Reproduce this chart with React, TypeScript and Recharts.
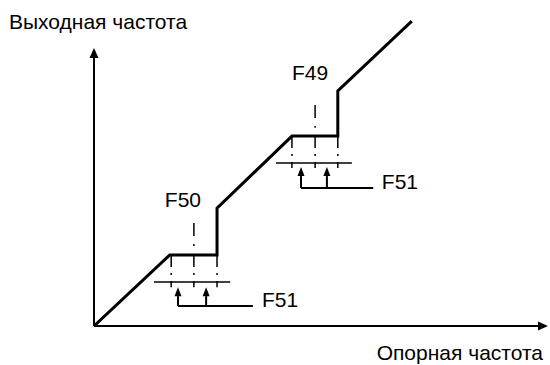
import React from 'react';
import { ComposedChart, Line, XAxis, YAxis, ReferenceLine, ReferenceDot } from 'recharts';

// Main characteristic: reference frequency (x, % of axis) vs output frequency (y, % of axis)
const refFreq = [0, 16.7, 27.1, 27.1, 43.6, 53.7, 53.7, 70.0];
const outFreq = [0, 22.5, 22.5, 37.3, 60.1, 60.1, 74.4, 96.5];

// Axis extents (arrow tips)
const axisXMax = 100;
const axisYMax = 88;

// Skip-frequency bands (band 1 = around F50, band 2 = around F49)
const skipStart = [17.0, 43.6];
const skipCenter = [22.0, 48.7];
const skipEnd = [27.1, 53.7];
const skipLevel = [22.5, 60.1];
const dropBottom = [12.3, 50.0];
const centerMarkTop = [32.6, 69.9];
const centerMarkBottom = [25.0, 62.7];
const bracketY = [13.9, 51.6];
const bracketLeft = [13.2, 40.1];
const bracketRight = [30.0, 56.8];
const arrowLeftX = [18.5, 45.6];
const arrowRightX = [24.7, 51.3];
const arrowTop = [12.3, 50.3];
const arrowBase = [6.3, 43.7];
const leaderEnd = [35.0, 61.5];

// Labels
const labelText = ['F50', 'F49', 'F51', 'F51'];
const labelX = [15.6, 43.6, 37.0, 63.4];
const labelY = [37.7, 77.8, 6.0, 43.4];

const yTitle = 'Выходная частота';
const xTitle = 'Опорная частота';

const curveData = refFreq.map((x, i) => ({ x, y: outFreq[i] }));
const FONT = '"Liberation Sans", Arial, sans-serif';
const FS = 21;

const arrowShape = (len: number, half: number, width: number) => (p: any) => {
  const { x1, y1, x2, y2 } = p;
  if (x1 == null || x2 == null) return <g />;
  const dx = x2 - x1;
  const dy = y2 - y1;
  const d = Math.hypot(dx, dy) || 1;
  const ux = dx / d;
  const uy = dy / d;
  const bx = x2 - ux * len;
  const by = y2 - uy * len;
  const px = -uy;
  const py = ux;
  return (
    <g>
      <line x1={x1} y1={y1} x2={bx} y2={by} stroke="#000" strokeWidth={width} />
      <polygon
        points={`${x2},${y2} ${bx + px * half},${by + py * half} ${bx - px * half},${by - py * half}`}
        fill="#000"
      />
    </g>
  );
};

const axisArrow = arrowShape(10, 4.5, 2);
const smallArrow = arrowShape(9, 3.5, 2);

export default function App() {
  const bands = [0, 1];
  return (
    <div style={{ position: 'absolute', left: 0, top: 0, width: 550, height: 365, background: '#fff' }}>
      <ComposedChart
        width={550}
        height={365}
        data={curveData}
        margin={{ top: 10, right: 2, bottom: 39, left: 94 }}
      >
        <XAxis type="number" dataKey="x" domain={[0, 100]} hide allowDataOverflow />
        <YAxis type="number" domain={[0, 100]} hide allowDataOverflow />
        <ReferenceLine
          segment={[{ x: 0, y: 0 }, { x: axisXMax, y: 0 }]}
          ifOverflow="visible"
          shape={axisArrow}
        />
        <ReferenceLine
          segment={[{ x: 0, y: 0 }, { x: 0, y: axisYMax }]}
          ifOverflow="visible"
          shape={axisArrow}
        />
        {bands.map((b) =>
          [skipStart[b], skipCenter[b], skipEnd[b]].map((x, k) => (
            <ReferenceLine
              key={`drop-${b}-${k}`}
              segment={[{ x, y: skipLevel[b] }, { x, y: dropBottom[b] }]}
              stroke="#000"
              strokeWidth={1.5}
              strokeDasharray="12 6 2 6"
              ifOverflow="visible"
            />
          ))
        )}
        {bands.map((b) => (
          <ReferenceLine
            key={`center-${b}`}
            segment={[{ x: skipCenter[b], y: centerMarkTop[b] }, { x: skipCenter[b], y: centerMarkBottom[b] }]}
            stroke="#000"
            strokeWidth={1.5}
            strokeDasharray="13 8 2 30"
            ifOverflow="visible"
          />
        ))}
        {bands.map((b) => (
          <ReferenceLine
            key={`bracket-${b}`}
            segment={[{ x: bracketLeft[b], y: bracketY[b] }, { x: bracketRight[b], y: bracketY[b] }]}
            stroke="#000"
            strokeWidth={1.5}
            ifOverflow="visible"
          />
        ))}
        {bands.map((b) =>
          [arrowLeftX[b], arrowRightX[b]].map((x, k) => (
            <ReferenceLine
              key={`arrow-${b}-${k}`}
              segment={[{ x, y: arrowBase[b] }, { x, y: arrowTop[b] }]}
              ifOverflow="visible"
              shape={smallArrow}
            />
          ))
        )}
        {bands.map((b) => (
          <ReferenceLine
            key={`leader-${b}`}
            segment={[{ x: arrowLeftX[b], y: arrowBase[b] }, { x: leaderEnd[b], y: arrowBase[b] }]}
            stroke="#000"
            strokeWidth={2}
            ifOverflow="visible"
          />
        ))}
        <Line
          type="linear"
          dataKey="y"
          stroke="#000"
          strokeWidth={3}
          strokeLinejoin="miter"
          dot={false}
          activeDot={false}
          isAnimationActive={false}
        />
        {labelText.map((t, i) => (
          <ReferenceDot
            key={`lbl-${i}`}
            x={labelX[i]}
            y={labelY[i]}
            r={0}
            ifOverflow="visible"
            shape={(p: any) => (
              <text x={p.cx} y={p.cy} fontSize={FS} fontFamily={FONT} fill="#000">
                {t}
              </text>
            )}
          />
        ))}
      </ComposedChart>
      <svg
        width={550}
        height={365}
        style={{ position: 'absolute', left: 0, top: 0, pointerEvents: 'none' }}
      >
        <text x={9} y={29} fontSize={FS} fontFamily={FONT} fill="#000">
          {yTitle}
        </text>
        <text x={543} y={360} fontSize={FS} fontFamily={FONT} fill="#000" textAnchor="end">
          {xTitle}
        </text>
      </svg>
    </div>
  );
}
